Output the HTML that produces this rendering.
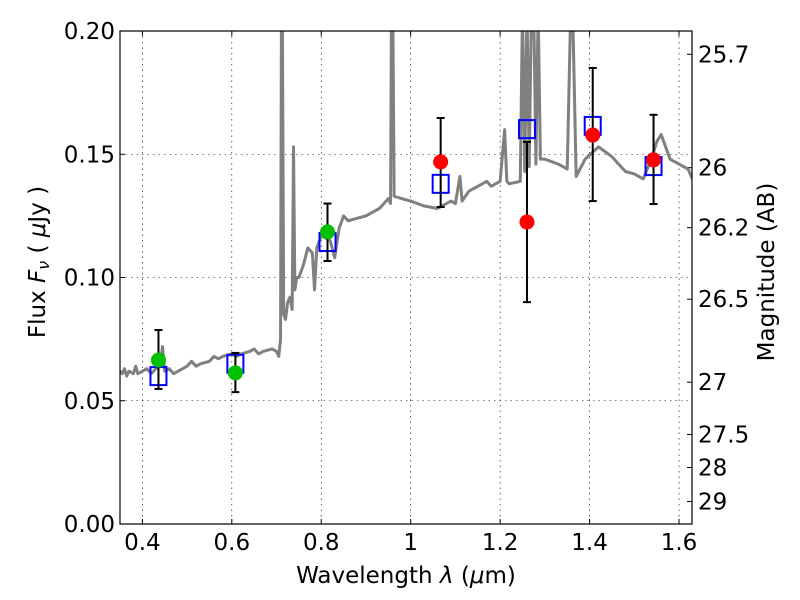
<!DOCTYPE html>
<html><head><meta charset="utf-8"><style>body{margin:0;background:#fff}svg{display:block;font-family:"DejaVu Sans","Liberation Sans",sans-serif}</style></head>
<body>
<svg id="c" width="800" height="600"></svg>
<script>
const specX=[0.35,0.355,0.36,0.365,0.37,0.38,0.385,0.39,0.40,0.41,0.42,0.43,0.44,0.445,0.45,0.46,0.47,0.48,0.5,0.51,0.52,0.53,0.55,0.56,0.57,0.58,0.6,0.61,0.62,0.64,0.65,0.66,0.67,0.69,0.7,0.705,0.709,0.711,0.713,0.716,0.72,0.725,0.73,0.735,0.738,0.741,0.745,0.75,0.76,0.77,0.78,0.785,0.79,0.80,0.82,0.83,0.84,0.85,0.86,0.88,0.9,0.92,0.93,0.95,0.955,0.957,0.960,0.963,0.98,1.0,1.03,1.06,1.09,1.10,1.11,1.115,1.13,1.15,1.17,1.18,1.2,1.21,1.215,1.22,1.245,1.25,1.255,1.26,1.265,1.27,1.275,1.28,1.285,1.29,1.3,1.33,1.35,1.358,1.362,1.37,1.39,1.42,1.45,1.48,1.5,1.52,1.54,1.55,1.56,1.58,1.6,1.62,1.63];
const specY=[0.062,0.061,0.063,0.060,0.062,0.061,0.064,0.061,0.062,0.063,0.061,0.063,0.064,0.072,0.062,0.063,0.061,0.062,0.064,0.066,0.064,0.065,0.066,0.068,0.067,0.068,0.069,0.068,0.069,0.070,0.071,0.069,0.070,0.071,0.070,0.068,0.075,0.21,0.21,0.085,0.083,0.09,0.092,0.087,0.153,0.095,0.10,0.10,0.105,0.112,0.11,0.095,0.112,0.117,0.115,0.108,0.12,0.125,0.123,0.124,0.125,0.127,0.128,0.132,0.130,0.21,0.21,0.133,0.132,0.131,0.129,0.128,0.131,0.130,0.141,0.131,0.135,0.137,0.139,0.137,0.139,0.160,0.139,0.138,0.139,0.21,0.143,0.21,0.145,0.21,0.21,0.146,0.21,0.148,0.148,0.146,0.144,0.21,0.21,0.141,0.148,0.153,0.149,0.143,0.142,0.140,0.149,0.155,0.158,0.148,0.146,0.144,0.140];
const greenX=[0.436,0.608,0.814];
const greenY=[0.0665,0.0613,0.1185];
const greenLo=[0.0548,0.0535,0.1067];
const greenHi=[0.0787,0.0694,0.130];
const greenModel=[0.060,0.065,0.1144];
const redX=[1.067,1.26,1.407,1.543];
const redY=[0.1469,0.1225,0.1578,0.1477];
const redLo=[0.1286,0.090,0.131,0.1298];
const redHi=[0.1647,0.155,0.185,0.166];
const redModel=[0.138,0.1602,0.1615,0.1452];
const xTicks=[0.4,0.6,0.8,1.0,1.2,1.4,1.6];
const xTickLabels=["0.4","0.6","0.8","1","1.2","1.4","1.6"];
const yTicks=[0,0.05,0.10,0.15,0.20];
const yTickLabels=["0.00","0.05","0.10","0.15","0.20"];
const magTicks=[25.7,26,26.2,26.5,27,27.5,28,29];
const magLabels=["25.7","26","26.2","26.5","27","27.5","28","29"];

const L=120,R=692,T=31,B=524,x0=0.35,x1=1.629,y0=0,y1=0.2;
const sx=v=>L+(v-x0)/(x1-x0)*(R-L), sy=v=>B-(v-y0)/(y1-y0)*(B-T);
const svg=document.getElementById('c'),NS="http://www.w3.org/2000/svg";
function mk(t,a,p){const e=document.createElementNS(NS,t);for(const k in a)e.setAttribute(k,a[k]);(p||svg).appendChild(e);return e;}
const FS=23;
const clip=mk('clipPath',{id:'cp'});mk('rect',{x:L,y:T,width:R-L,height:B-T},clip);
const grid=mk('g',{});
xTicks.forEach((v,i)=>{const x=sx(v);
 mk('line',{x1:x,x2:x,y1:T,y2:B,stroke:'#000','stroke-width':0.6,'stroke-dasharray':'1.5,4'},grid);
 mk('line',{x1:x,x2:x,y1:B,y2:B-5,stroke:'#000'});mk('line',{x1:x,x2:x,y1:T,y2:T+5,stroke:'#000'});
 const t=mk('text',{x:x,y:B+26,'font-size':FS,'text-anchor':'middle'});t.textContent=xTickLabels[i];
 });
yTicks.forEach((v,i)=>{const y=sy(v);
 if(i>0&&i<yTicks.length-1)mk('line',{x1:L,x2:R,y1:y,y2:y,stroke:'#000','stroke-width':0.6,'stroke-dasharray':'1.5,4'},grid);
 mk('line',{x1:L,x2:L+5,y1:y,y2:y,stroke:'#000'});
 const t=mk('text',{x:L-5,y:y+8,'font-size':FS,'text-anchor':'end'});t.textContent=yTickLabels[i];
 });
magTicks.forEach((m,i)=>{const f=Math.pow(10,(23.9-m)/2.5);const y=sy(f);
 mk('line',{x1:R,x2:R-5,y1:y,y2:y,stroke:'#000'});
 const t=mk('text',{x:R+6,y:y+8,'font-size':FS});t.textContent=magLabels[i];
 });
const g=mk('g',{'clip-path':'url(#cp)'});
const sp=mk('polyline',{points:specX.map((v,i)=>sx(v)+','+sy(specY[i])).join(' '),fill:'none',stroke:'#808080','stroke-width':3,'stroke-linejoin':'round'},g);

function pts(X,Y,Lo,Hi,M,col,nm){X.forEach((v,i)=>{const x=sx(v);
 const b=mk('rect',{x:x-8,y:sy(M[i])-9,width:16,height:18,fill:'none',stroke:'#00f','stroke-width':2},g);
 
 const e=mk('g',{stroke:'#000','stroke-width':2},g);
 mk('line',{x1:x,x2:x,y1:sy(Lo[i]),y2:sy(Hi[i])},e);
 mk('line',{x1:x-4,x2:x+4,y1:sy(Lo[i]),y2:sy(Lo[i])},e);mk('line',{x1:x-4,x2:x+4,y1:sy(Hi[i]),y2:sy(Hi[i])},e);
 const c=mk('circle',{cx:x,cy:sy(Y[i]),r:7.5,fill:col},g);});}
pts(greenX,greenY,greenLo,greenHi,greenModel,'#00c000','green-photometry-point');
pts(redX,redY,redLo,redHi,redModel,'#ff0000','red-photometry-point');
const fr=mk('rect',{x:L,y:T,width:R-L,height:B-T,fill:'none',stroke:'#000','stroke-width':1.2});

</script>
<svg style="position:absolute;left:0;top:0" width="800" height="600">
<text x="406" y="583" font-size="23" text-anchor="middle">Wavelength  <tspan font-style="italic">λ</tspan> (<tspan font-style="italic">μ</tspan>m)</text>
<text transform="translate(45,262) rotate(-90)" font-size="23" text-anchor="middle">Flux  <tspan font-style="italic">F</tspan><tspan font-style="italic" font-size="16" dy="4">ν</tspan><tspan dy="-4">  (  </tspan><tspan font-style="italic">μ</tspan>Jy )</text>
<text transform="translate(774,272) rotate(-90)" font-size="23" text-anchor="middle">Magnitude (AB)</text>
</svg>
</body></html>
